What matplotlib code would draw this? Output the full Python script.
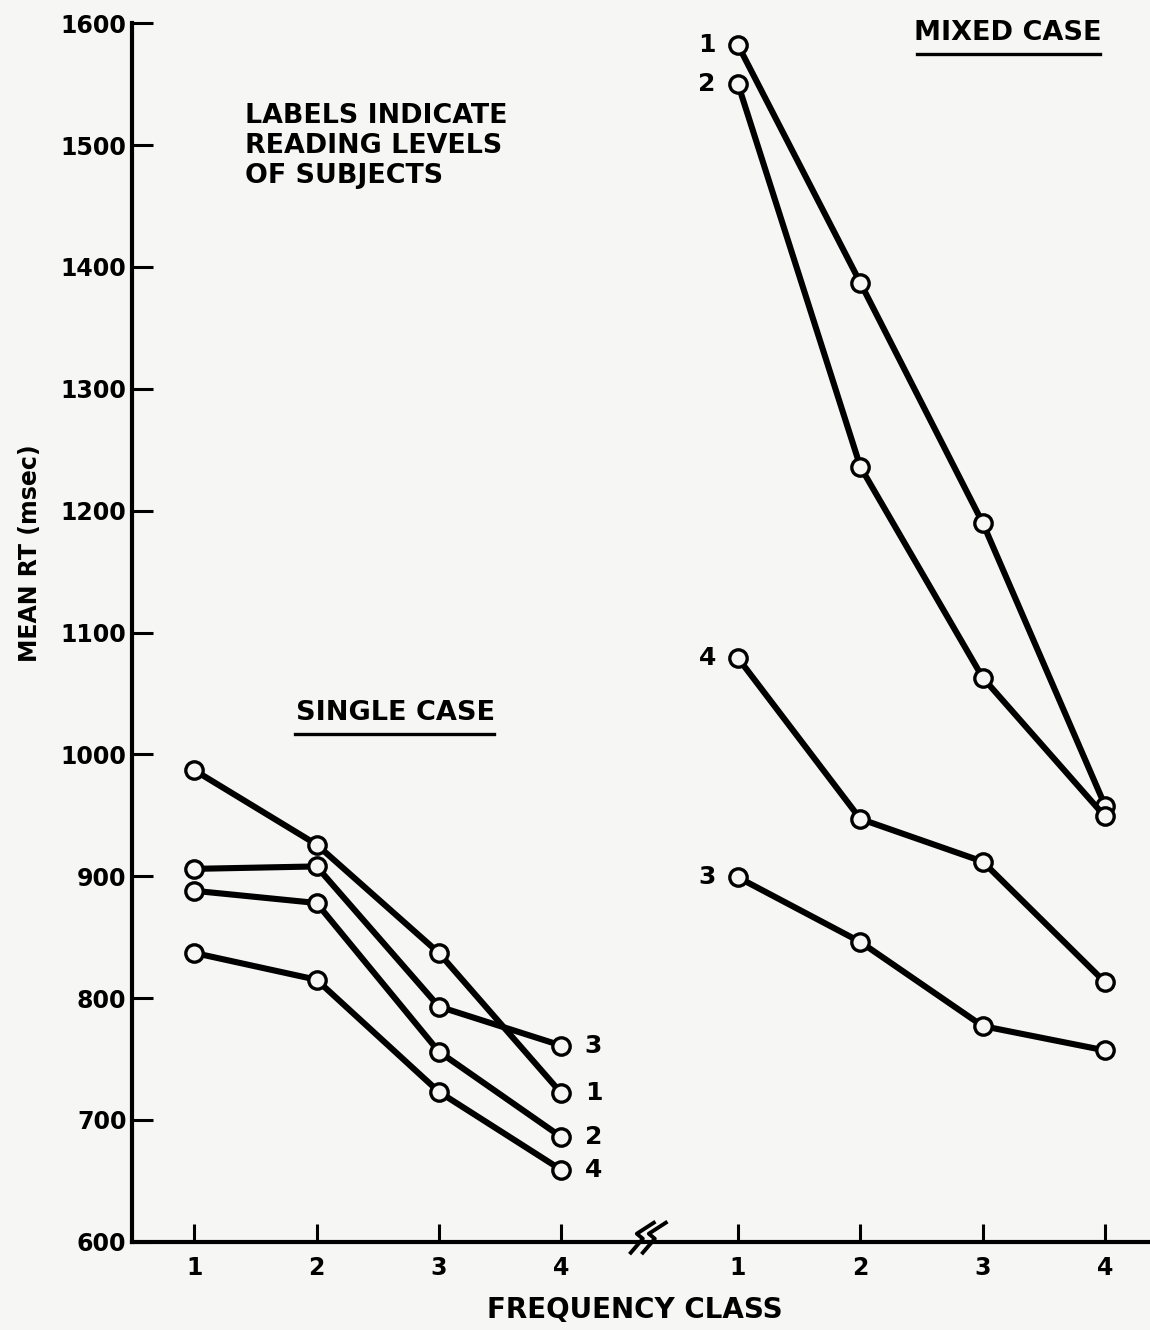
import numpy as np
import matplotlib
matplotlib.use("Agg")
import matplotlib.pyplot as plt

# datos (RT medio en msec por clase de frecuencia)
freq_class = [1, 2, 3, 4]
mixed_shift = 4.446  # posicion del bloque "mixed" despues del corte del eje

single_labels = ["1", "2", "3", "4"]
single_1 = [987, 926, 837, 722]
single_2 = [888, 878, 756, 686]
single_3 = [906, 908, 793, 761]
single_4 = [837, 815, 723, 659]

mixed_labels = ["1", "2", "3", "4"]
mixed_1 = [1582, 1387, 1190, 958]
mixed_2 = [1550, 1236, 1063, 949]
mixed_3 = [899, 846, 777, 757]
mixed_4 = [1079, 947, 912, 813]

y_ticks = [600, 700, 800, 900, 1000, 1100, 1200, 1300, 1400, 1500, 1600]

plt.rcParams["font.family"] = ["DejaVu Sans"]
plt.rcParams["font.weight"] = "bold"

bg = "#f6f6f4"
fig = plt.figure(figsize=(11.5, 13.3), dpi=100, facecolor=bg)
ax = fig.add_axes([132 / 1150, 88.3 / 1330, 1 - 132 / 1150, 1218.4 / 1330])
ax.set_facecolor(bg)

x_single = np.array(freq_class, dtype=float)
x_mixed = x_single + mixed_shift

line_kw = dict(color="black", linewidth=4.4, marker="o", markersize=12.5,
               markerfacecolor=bg, markeredgecolor="black", markeredgewidth=2.4,
               clip_on=False, zorder=3)

single_series = [single_1, single_2, single_3, single_4]
mixed_series = [mixed_1, mixed_2, mixed_3, mixed_4]

for vals in single_series:
    ax.plot(x_single, vals, **line_kw)
for vals in mixed_series:
    ax.plot(x_mixed, vals, **line_kw)

# etiquetas de nivel de lectura
for lab, vals in zip(single_labels, single_series):
    ax.annotate(lab, (x_single[-1], vals[-1]), xytext=(17, 0),
                textcoords="offset points", va="center", ha="left", fontsize=18)
for lab, vals in zip(mixed_labels, mixed_series):
    ax.annotate(lab, (x_mixed[0], vals[0]), xytext=(-16, 0),
                textcoords="offset points", va="center", ha="right", fontsize=18)

ax.set_xlim(0.491, 8.814)
ax.set_ylim(600, 1600)
ax.set_xticks(list(x_single) + list(x_mixed))
ax.set_xticklabels([str(c) for c in freq_class] * 2)
ax.set_yticks(y_ticks)
ax.tick_params(axis="both", direction="in", width=2.2, labelsize=17)
ax.tick_params(axis="y", length=15, pad=4)
ax.tick_params(axis="x", length=13, pad=10)

for s in ["top", "right"]:
    ax.spines[s].set_visible(False)
for s in ["left", "bottom"]:
    ax.spines[s].set_linewidth(3)

# corte del eje x (dos zigzags)
bx = 4.70
px_x = 1 / 122.3
px_y = 100 / 121.84
zig_x = np.array([6, -11, -5, -17]) + 1
zig_y = np.array([19, 8, 3, -11])
for off in (0, 12):
    ax.plot(bx + (zig_x + off) * px_x, 600 + zig_y * px_y, color="black",
            linewidth=2.8, solid_joinstyle="round", clip_on=False, zorder=5)

# textos
fig.text(30 / 1150, 1 - 553 / 1330, "MEAN RT (msec)", rotation=90,
         ha="center", va="center", fontsize=17)
fig.text(635 / 1150, 1 - 1310 / 1330, "FREQUENCY CLASS", ha="center",
         va="center", fontsize=20)
fig.text(245 / 1150, 1 - 103 / 1330, "LABELS INDICATE\nREADING LEVELS\nOF SUBJECTS",
         ha="left", va="top", fontsize=19.4, linespacing=1.2)

for txt, xc, yc, x0, x1 in [("MIXED CASE", 1008, 33, 917, 1100),
                            ("SINGLE CASE", 395, 713, 295, 494)]:
    fig.text(xc / 1150, 1 - yc / 1330, txt, ha="center", va="center", fontsize=19.5)
    fig.add_artist(plt.Line2D([x0 / 1150, x1 / 1150],
                              [1 - (yc + 21) / 1330, 1 - (yc + 21) / 1330],
                              color="black", linewidth=2.4))

fig.savefig("out.png", dpi=100, facecolor=bg)
